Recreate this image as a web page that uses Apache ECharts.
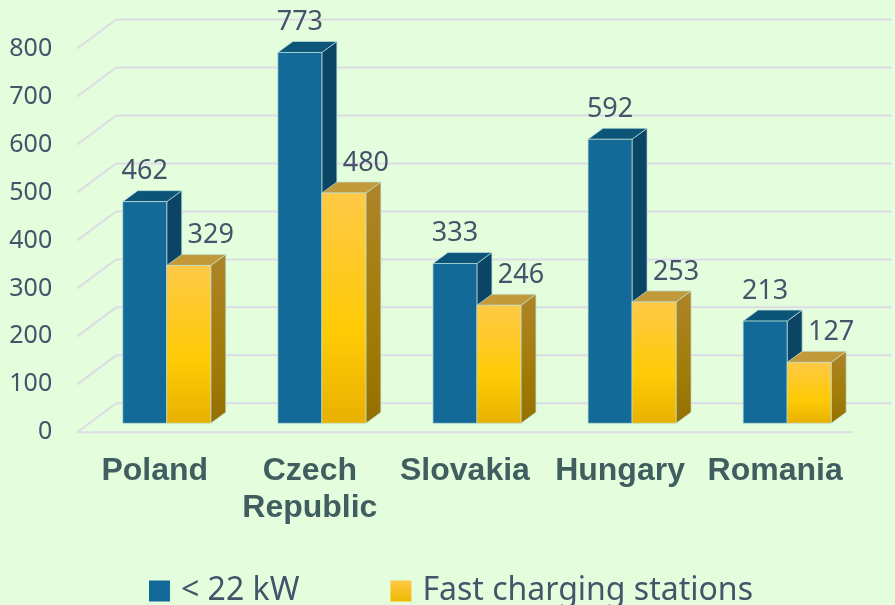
<!DOCTYPE html>
<html>
<head>
<meta charset="utf-8">
<script src="https://cdn.jsdelivr.net/npm/echarts@6/dist/echarts.min.js"></script>
<style>
html,body{margin:0;padding:0;background:#e4fedd;}
#c{width:895px;height:605px;}
</style>
</head>
<body>
<div id="c"></div>
<script>
const categories = ['Poland', 'Czech\nRepublic', 'Slovakia', 'Hungary', 'Romania'];
const seriesNames = ['< 22 kW', 'Fast charging stations'];
const slowValues = [462, 773, 333, 592, 213];
const fastValues = [329, 480, 246, 253, 127];
const yTicks = [0, 100, 200, 300, 400, 500, 600, 700, 800];

// geometry (pixel styling only)
const BAR_W = 44, BAR_DX = 15, BAR_DY = -11;
const FRONT_DX = -12, FRONT_DY = 9, BACK_DX = 27, BACK_DY = -20;

const chart = echarts.init(document.getElementById('c'), null, {renderer: 'canvas'});

function gridRender(params, api) {
  const v = api.value(1);
  const band = api.size([1, 0])[0];
  const c0 = api.coord([0, v]);
  const left = c0[0] - band / 2;
  const right = left + band * categories.length;
  const y = c0[1];
  const st = {stroke: '#dcdce6', lineWidth: 2, fill: null};
  const children = [{
    type: 'polyline',
    shape: {points: [[left + FRONT_DX, y + FRONT_DY], [left + BACK_DX, y + BACK_DY], [right + BACK_DX, y + BACK_DY]]},
    style: st
  }];
  if (v === 0) {
    children.push({
      type: 'line',
      shape: {x1: left + FRONT_DX, y1: y + FRONT_DY, x2: right + FRONT_DX, y2: y + FRONT_DY},
      style: st
    });
  }
  return {type: 'group', children: children};
}

function barRender(which, pal) {
  return function (params, api) {
    const i = api.value(0), v = api.value(1);
    const b = api.coord([i, 0]);
    const t = api.coord([i, v]);
    const x0 = which === 0 ? b[0] - BAR_W : b[0];
    const x1 = x0 + BAR_W;
    const yb = b[1], yt = t[1];
    const outline = {stroke: 'rgba(190,225,215,0.7)', lineWidth: 1};
    const labelX = (x0 + x1) / 2 + (which === 0 ? 0 : 22);
    return {
      type: 'group',
      children: [
        {type: 'polygon', shape: {points: [[x1, yt], [x1 + BAR_DX, yt + BAR_DY], [x1 + BAR_DX, yb + BAR_DY], [x1, yb]]},
          style: Object.assign({fill: pal.side}, outline)},
        {type: 'polygon', shape: {points: [[x0, yt], [x0 + BAR_DX, yt + BAR_DY], [x1 + BAR_DX, yt + BAR_DY], [x1, yt]]},
          style: Object.assign({fill: pal.top}, outline)},
        {type: 'rect', shape: {x: x0, y: yt, width: BAR_W, height: yb - yt},
          style: Object.assign({fill: pal.front}, outline)},
        {type: 'text', style: {text: String(v), x: labelX, y: yt - 30, align: 'center', verticalAlign: 'middle',
          fill: '#44546a', font: '27px "Noto Sans"'}}
      ]
    };
  };
}

const bluePal = {
  front: '#136a98',
  side: '#0b4464',
  top: '#0d5479'
};
const yellowPal = {
  front: new echarts.graphic.LinearGradient(0, 0, 0, 1, [
    {offset: 0, color: '#ffc947'}, {offset: 0.6, color: '#ffcb05'}, {offset: 1, color: '#e8b000'}]),
  side: new echarts.graphic.LinearGradient(0, 0, 0, 1, [
    {offset: 0, color: '#ae8428'}, {offset: 0.6, color: '#a27c08'}, {offset: 1, color: '#957000'}]),
  top: '#c29a3a'
};

const option = {
  backgroundColor: '#e4fedd',
  animation: false,
  grid: [
    {left: 89.2, width: 775.5, top: 39.5, height: 383.8},
    {left: 77.2, width: 775.5, top: 48.5, height: 383.8}
  ],
  xAxis: [
    {type: 'category', data: categories, gridIndex: 0, show: false},
    {type: 'category', data: categories, gridIndex: 1,
      axisLine: {show: false}, axisTick: {show: false}, splitLine: {show: false},
      axisLabel: {margin: 20, fontFamily: '"Liberation Sans", Arial', fontWeight: 'bold', fontSize: 32,
        color: '#405e60', lineHeight: 37, interval: 0}}
  ],
  yAxis: [
    {type: 'value', min: 0, max: 800, interval: 100, gridIndex: 0, show: false},
    {type: 'value', min: 0, max: 800, interval: 100, gridIndex: 1,
      axisLine: {show: false}, axisTick: {show: false}, splitLine: {show: false},
      axisLabel: {margin: 25, fontFamily: '"Noto Sans"', fontSize: 25, color: '#44546a'}}
  ],
  legend: {
    left: 144, top: 570, itemWidth: 21, itemHeight: 21, itemGap: 91, icon: 'rect',
    textStyle: {fontFamily: '"Noto Sans"', fontSize: 32, color: '#44546a', padding: [0, 0, 0, 6]},
    data: [
      {name: seriesNames[0], itemStyle: {color: '#136a98'}},
      {name: seriesNames[1], itemStyle: {color: new echarts.graphic.LinearGradient(0, 0, 0, 1, [
        {offset: 0, color: '#ffc947'}, {offset: 1, color: '#f0b800'}])}}
    ]
  },
  series: [
    {type: 'custom', name: 'grid', xAxisIndex: 0, yAxisIndex: 0, z: 1, silent: true,
      renderItem: gridRender, data: yTicks.map(v => [0, v])},
    {type: 'custom', name: seriesNames[0], xAxisIndex: 0, yAxisIndex: 0, z: 2,
      itemStyle: {color: '#136a98'},
      renderItem: barRender(0, bluePal), data: slowValues.map((v, i) => [i, v])},
    {type: 'custom', name: seriesNames[1], xAxisIndex: 0, yAxisIndex: 0, z: 3,
      itemStyle: {color: '#ffc20e'},
      renderItem: barRender(1, yellowPal), data: fastValues.map((v, i) => [i, v])}
  ]
};
chart.setOption(option);
</script>
</body>
</html>
